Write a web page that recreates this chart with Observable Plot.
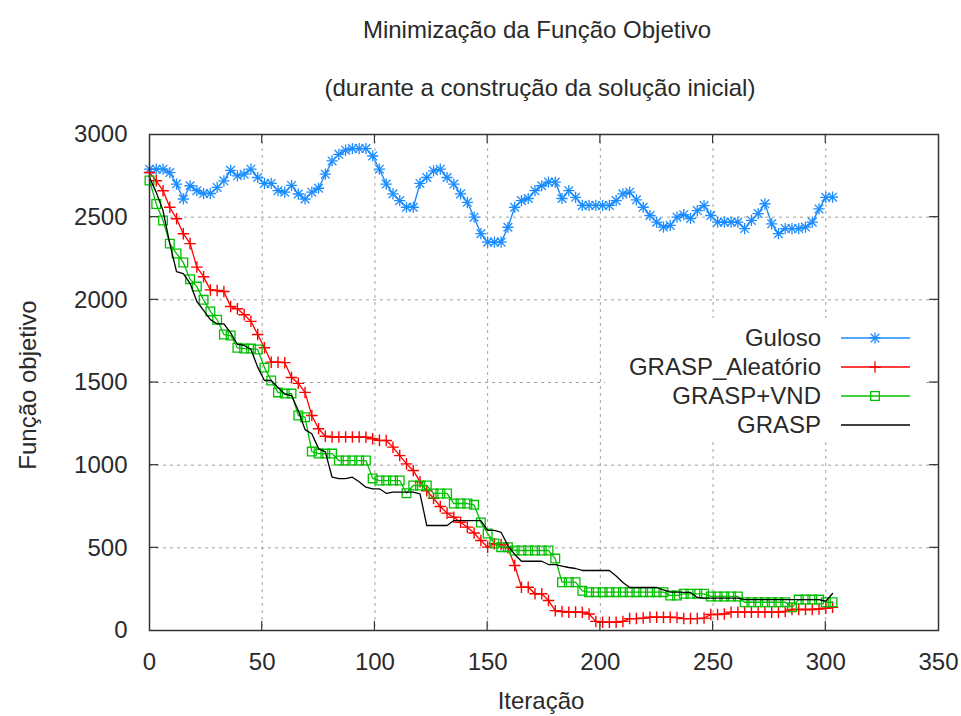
<!DOCTYPE html>
<html><head><meta charset="utf-8">
<script src="https://cdn.jsdelivr.net/npm/d3@7"></script>
<script src="https://cdn.jsdelivr.net/npm/@observablehq/plot@0.6"></script>
<style>
body{margin:0;background:#fff;}
#chart{width:961px;height:716px;}
</style></head><body><div id="chart"></div>
<script>
const title = "Minimização da Função Objetivo";
const subtitle = "(durante a construção da solução inicial)";
const xLabel = "Iteração";
const yLabel = "Função objetivo";

const iterations = d3.range(0, 304, 3);

const guloso = [
  2790,2790,2790,2770,2700,2610,2690,2660,2643,2643,
  2680,2720,2783,2750,2760,2790,2740,2704,2704,2660,
  2651,2692,2640,2610,2651,2675,2760,2840,2880,2905,
  2915,2915,2915,2870,2790,2700,2641,2600,2560,2560,
  2704,2740,2780,2790,2740,2700,2641,2590,2500,2400,
  2349,2349,2349,2439,2560,2600,2613,2660,2690,2712,
  2712,2613,2660,2620,2571,2571,2571,2571,2571,2600,
  2641,2651,2605,2560,2510,2470,2440,2450,2500,2515,
  2492,2540,2570,2510,2470,2470,2470,2470,2431,2480,
  2522,2581,2460,2400,2431,2431,2431,2440,2470,2550,
  2620,2621];

const graspAleatorio = [
  2770,2720,2660,2560,2490,2400,2340,2198,2140,2060,
  2056,2050,1960,1946,1910,1870,1790,1710,1623,1623,
  1620,1530,1495,1440,1300,1220,1175,1170,1170,1170,
  1170,1170,1169,1160,1150,1149,1109,1058,1008,968,
  900,845,800,750,710,685,655,625,590,544,
  504,525,520,500,393,262,262,222,222,181,
  120,115,110,112,110,100,55,50,50,50,
  55,72,72,75,80,80,80,80,78,72,
  72,72,75,97,97,100,111,111,111,111,
  111,111,111,111,115,127,127,127,127,130,
  135,140];

const graspVnd = [
  2722,2580,2480,2340,2280,2226,2125,2080,2000,1930,
  1880,1790,1784,1710,1705,1705,1700,1590,1512,1440,
  1433,1433,1300,1290,1082,1070,1070,1070,1028,1028,
  1028,1028,1028,920,907,907,907,907,830,877,
  877,877,829,829,829,768,768,768,760,653,
  587,526,504,504,484,484,484,484,484,484,
  435,292,292,292,240,232,232,232,232,232,
  232,232,232,232,232,232,232,212,212,222,
  222,222,222,206,206,206,206,206,171,171,
  171,171,171,171,171,140,187,187,187,187,
  171,171];

const grasp = [
  2740,2650,2540,2340,2170,2159,2100,1990,1936,1880,
  1855,1855,1800,1730,1724,1700,1593,1512,1512,1470,
  1430,1421,1330,1215,1190,1100,1080,927,918,918,
  927,900,867,857,857,830,837,837,837,837,
  827,635,635,635,635,665,665,665,665,665,
  605,605,593,514,460,419,419,419,419,399,
  399,390,381,375,363,363,363,363,363,330,
  290,260,260,260,260,260,245,232,232,230,
  230,200,196,196,196,196,196,196,187,187,
  187,187,187,187,187,187,187,187,187,187,
  177,224];

const xTicks = [0,50,100,150,200,250,300,350];
const yTicks = [0,500,1000,1500,2000,2500,3000];
const seriesNames = ["Guloso","GRASP_Aleatório","GRASP+VND","GRASP"];
const seriesColors = ["#1a8cff","#ff0000","#00c000","#000000"];

const rows = vals => iterations.map((x, i) => ({x, y: vals[i]}));
const dGul = rows(guloso), dAle = rows(graspAleatorio), dVnd = rows(graspVnd), dGr = rows(grasp);

const FONT = "'Liberation Sans', Arial, sans-serif";
const TXT = "#2a2a2a";
const gridStyle = {stroke:"#a0a0a0", strokeOpacity:1, strokeWidth:1, strokeDasharray:"3,4"};

const plot = Plot.plot({
  width: 961, height: 716,
  marginLeft: 149, marginRight: 23, marginTop: 134, marginBottom: 86,
  style: {fontFamily: FONT, fontSize: "24px", color: TXT, background: "#fff"},
  x: {domain: [0, 350]},
  y: {domain: [0, 3000]},
  marks: [
    Plot.gridX(xTicks.slice(1, -1), gridStyle),
    Plot.gridY(yTicks.slice(1, -1), gridStyle),
    Plot.axisX(xTicks, {anchor:"bottom", tickSize:0, tickPadding:22, tickFormat: d => String(d), label:null, fontSize:24, fill:TXT}),
    Plot.axisY(yTicks, {anchor:"left", tickSize:0, tickPadding:22, tickFormat: d => String(d), label:null, fontSize:24, fill:TXT}),
    // Guloso
    Plot.line(dGul, {x:"x", y:"y", stroke:seriesColors[0], strokeWidth:1.4}),
    Plot.dot(dGul, {x:"x", y:"y", symbol:"plus", r:3.7, stroke:seriesColors[0], fill:"none", strokeWidth:1.3}),
    Plot.dot(dGul, {x:"x", y:"y", symbol:"times", r:4.0, stroke:seriesColors[0], fill:"none", strokeWidth:1.3}),
    // GRASP_Aleatório
    Plot.line(dAle, {x:"x", y:"y", stroke:seriesColors[1], strokeWidth:1.3}),
    Plot.dot(dAle, {x:"x", y:"y", symbol:"plus", r:3.8, stroke:seriesColors[1], fill:"none", strokeWidth:1.4}),
    // GRASP+VND
    Plot.line(dVnd, {x:"x", y:"y", stroke:seriesColors[2], strokeWidth:1.3}),
    Plot.dot(dVnd, {x:"x", y:"y", symbol:"square", r:4.9, stroke:seriesColors[2], fill:"none", strokeWidth:1.3}),
    // GRASP
    Plot.line(dGr, {x:"x", y:"y", stroke:seriesColors[3], strokeWidth:1.3}),
    Plot.frame({stroke:"#333", strokeWidth:1.5})
  ]
});
document.getElementById("chart").appendChild(plot);

const svg = d3.select(plot);
const sx = plot.scale("x"), sy = plot.scale("y");
const [X0, X1] = sx.range;
const [Y0, Y1] = sy.range;
const TICK = 9;
const tg = svg.append("g").attr("stroke", "#333").attr("stroke-width", 1.2);
xTicks.slice(1, -1).forEach(t => {
  const px = sx.apply(t);
  tg.append("line").attr("x1", px).attr("x2", px).attr("y1", Y0).attr("y2", Y0 - TICK);
  tg.append("line").attr("x1", px).attr("x2", px).attr("y1", Y1).attr("y2", Y1 + TICK);
});
yTicks.slice(1, -1).forEach(t => {
  const py = sy.apply(t);
  tg.append("line").attr("x1", X0).attr("x2", X0 + TICK).attr("y1", py).attr("y2", py);
  tg.append("line").attr("x1", X1).attr("x2", X1 - TICK).attr("y1", py).attr("y2", py);
});

const txt = (s, x, y) => svg.append("text").text(s)
  .attr("x", x).attr("y", y)
  .attr("text-anchor", "middle")
  .attr("font-family", FONT).attr("font-size", 24)
  .attr("fill", TXT);

txt(title, 537, 38);
txt(subtitle, 540, 96);
txt(xLabel, 541, 709);
svg.append("text").text(yLabel)
  .attr("transform", "translate(36,385) rotate(-90)")
  .attr("text-anchor", "middle").attr("font-family", FONT).attr("font-size", 24).attr("fill", TXT);

// Legend (opaque key, top-right inside the frame)
const lg = svg.append("g");
lg.append("rect").attr("x", X1 - 333).attr("y", 318).attr("width", 317).attr("height", 124).attr("fill", "#fff");
const rowY = [338, 367, 396, 425];
const lineX0 = X1 - 97, lineX1 = X1 - 28, markX = X1 - 63, textX = X1 - 117;
seriesNames.forEach((name, i) => {
  const y = rowY[i];
  lg.append("text").text(name).attr("x", textX).attr("y", y).attr("dy", "0.35em")
    .attr("text-anchor", "end").attr("font-family", FONT).attr("font-size", 24).attr("fill", TXT);
  lg.append("line").attr("x1", lineX0).attr("x2", lineX1).attr("y1", y).attr("y2", y)
    .attr("stroke", seriesColors[i]).attr("stroke-width", 1.3);
  const sym = [];
  if (i === 0) sym.push([d3.symbolPlus, 3.7], [d3.symbolTimes, 4.0]);
  if (i === 1) sym.push([d3.symbolPlus, 3.8]);
  if (i === 2) sym.push([d3.symbolSquare, 4.9]);
  sym.forEach(([s, r]) => {
    lg.append("path").attr("d", d3.symbol(s, Math.PI * r * r)())
      .attr("transform", `translate(${markX},${y})`)
      .attr("fill", "none").attr("stroke", seriesColors[i]).attr("stroke-width", 1.3);
  });
});
</script></body></html>
